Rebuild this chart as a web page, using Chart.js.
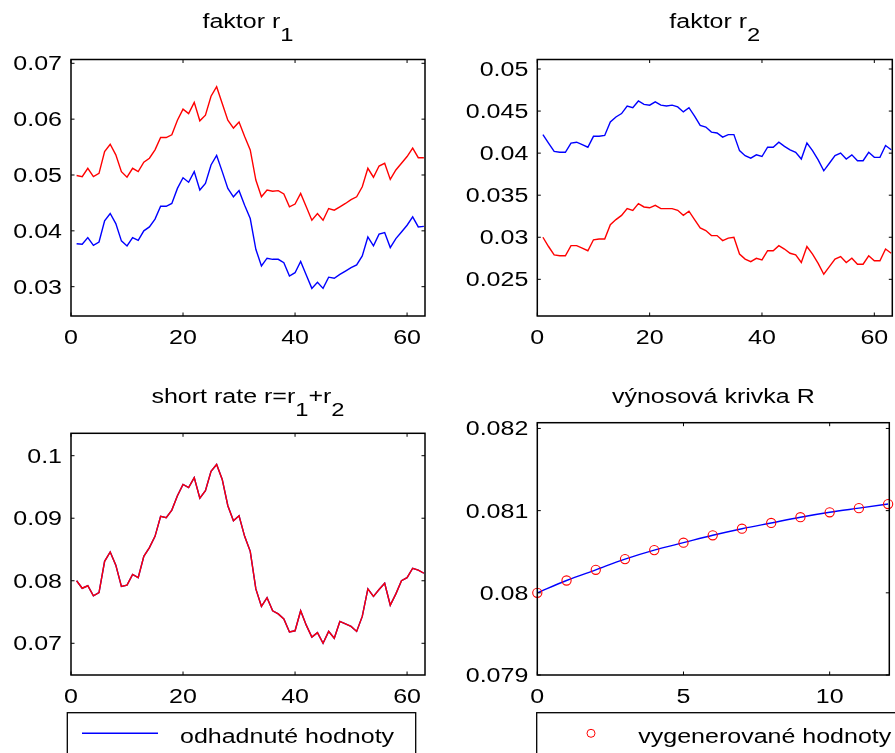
<!DOCTYPE html>
<html>
<head>
<meta charset="utf-8">
<title>faktory r1, r2, short rate a výnosová krivka</title>
<script src="https://cdn.jsdelivr.net/npm/chart.js@4.4.1/dist/chart.umd.min.js"></script>
<style>
    html, body { margin: 0; padding: 0; background: #fff; }
    #figure { position: relative; width: 895px; height: 753px; overflow: hidden; }
    #figure canvas { position: absolute; left: 0; top: 0; }
</style>
</head>
<body>
<div id="figure">
    <canvas id="r1Chart" width="895" height="753"></canvas>
    <canvas id="r2Chart" width="895" height="753"></canvas>
    <canvas id="rateChart" width="895" height="753"></canvas>
    <canvas id="yieldChart" width="895" height="753"></canvas>
</div>
<script>
// casove kroky 1..63
const steps = Array.from({ length: 63 }, (_, i) => i + 1);

const r1Generated = [
    0.0499, 0.0497, 0.0512, 0.0497, 0.0503, 0.0542, 0.0555, 0.0536, 0.0506, 0.0496,
    0.0512, 0.0506, 0.0523, 0.0530, 0.0545, 0.0567, 0.0567, 0.0572, 0.0598, 0.0618,
    0.0610, 0.0630, 0.0597, 0.0607, 0.0641, 0.0658, 0.0628, 0.0598, 0.0584, 0.0595,
    0.0569, 0.0545, 0.0491, 0.0461, 0.0473, 0.0471, 0.0472, 0.0466, 0.0443, 0.0448,
    0.0467, 0.0443, 0.0419, 0.0431, 0.0419, 0.0440, 0.0437, 0.0443, 0.0449, 0.0456,
    0.0461, 0.0479, 0.0512, 0.0496, 0.0516, 0.0521, 0.0492, 0.0509, 0.0521, 0.0533,
    0.0548, 0.0531, 0.0531
];
const r1Estimated = [
    0.0377, 0.0376, 0.0388, 0.0374, 0.0380, 0.0418, 0.0431, 0.0413, 0.0382, 0.0373,
    0.0388, 0.0383, 0.0400, 0.0407, 0.0421, 0.0444, 0.0444, 0.0449, 0.0476, 0.0495,
    0.0487, 0.0506, 0.0473, 0.0485, 0.0518, 0.0535, 0.0506, 0.0476, 0.0461, 0.0472,
    0.0446, 0.0422, 0.0367, 0.0337, 0.0351, 0.0349, 0.0349, 0.0343, 0.0319, 0.0325,
    0.0345, 0.0321, 0.0297, 0.0308, 0.0297, 0.0317, 0.0315, 0.0322, 0.0328, 0.0334,
    0.0339, 0.0355, 0.0389, 0.0373, 0.0394, 0.0397, 0.0370, 0.0386, 0.0398, 0.0410,
    0.0425, 0.0407, 0.0408
];
const r2Generated = [
    0.0300, 0.0289, 0.0279, 0.0278, 0.0278, 0.0290, 0.0290, 0.0287, 0.0284, 0.0297,
    0.0298, 0.0298, 0.0315, 0.0321, 0.0326, 0.0334, 0.0332, 0.0340, 0.0336, 0.0335,
    0.0338, 0.0334, 0.0334, 0.0334, 0.0332, 0.0326, 0.0331, 0.0321, 0.0311, 0.0308,
    0.0302, 0.0302, 0.0296, 0.0299, 0.0300, 0.0280, 0.0274, 0.0271, 0.0275, 0.0273,
    0.0284, 0.0284, 0.0290, 0.0286, 0.0281, 0.0279, 0.0270, 0.0289, 0.0280, 0.0269,
    0.0256, 0.0265, 0.0274, 0.0277, 0.0270, 0.0275, 0.0268, 0.0268, 0.0278, 0.0272,
    0.0272, 0.0286, 0.0281
];
const r2Estimated = [
    0.0422, 0.0412, 0.0402, 0.0401, 0.0401, 0.0412, 0.0413, 0.0410, 0.0407, 0.0420,
    0.0420, 0.0421, 0.0437, 0.0443, 0.0447, 0.0456, 0.0454, 0.0462, 0.0458, 0.0457,
    0.0461, 0.0457, 0.0456, 0.0457, 0.0455, 0.0449, 0.0454, 0.0444, 0.0433, 0.0431,
    0.0425, 0.0424, 0.0419, 0.0422, 0.0422, 0.0403, 0.0397, 0.0394, 0.0398, 0.0396,
    0.0407, 0.0407, 0.0413, 0.0408, 0.0404, 0.0401, 0.0393, 0.0412, 0.0403, 0.0392,
    0.0379, 0.0388, 0.0397, 0.0400, 0.0393, 0.0398, 0.0391, 0.0391, 0.0401, 0.0395,
    0.0395, 0.0409, 0.0404
];
// short rate r = r1 + r2 (odhad aj simulacia sa prekryvaju)
const shortRate = [
    0.0800, 0.0788, 0.0792, 0.0776, 0.0781, 0.0831, 0.0846, 0.0825, 0.0791, 0.0793,
    0.0810, 0.0805, 0.0839, 0.0853, 0.0871, 0.0903, 0.0901, 0.0913, 0.0936, 0.0954,
    0.0949, 0.0965, 0.0932, 0.0944, 0.0975, 0.0986, 0.0962, 0.0920, 0.0896, 0.0904,
    0.0871, 0.0847, 0.0787, 0.0759, 0.0773, 0.0752, 0.0747, 0.0739, 0.0718, 0.0720,
    0.0752, 0.0729, 0.0710, 0.0717, 0.0700, 0.0719, 0.0708, 0.0735, 0.0731, 0.0727,
    0.0719, 0.0743, 0.0787, 0.0775, 0.0786, 0.0796, 0.0761, 0.0779, 0.0800, 0.0805,
    0.0820, 0.0817, 0.0812
];

const maturities = [0, 1, 2, 3, 4, 5, 6, 7, 8, 9, 10, 11, 12];
const yieldGenerated = [0.08000, 0.08015, 0.08028, 0.08041, 0.08052, 0.08061, 0.08070,
                        0.08078, 0.08085, 0.08092, 0.08098, 0.08103, 0.08108];
const yieldEstimated = [0.08000, 0.08015, 0.08028, 0.08041, 0.08052, 0.08061, 0.08070,
                        0.08078, 0.08085, 0.08092, 0.08098, 0.08103, 0.08108];

const stepTicks = [0, 20, 40, 60];
const maturityTicks = [0, 5, 10];
const r1Ticks = [0.03, 0.04, 0.05, 0.06, 0.07];
const r2Ticks = [0.025, 0.03, 0.035, 0.04, 0.045, 0.05];
const rateTicks = [0.07, 0.08, 0.09, 0.1];
const yieldTicks = [0.079, 0.08, 0.081, 0.082];

const RED = '#ff0000';
const BLUE = '#0000ff';
const FONT = '20px "Liberation Sans", Arial, sans-serif';
const SUB_FONT = '19px "Liberation Sans", Arial, sans-serif';
const STRETCH = 1.25;   // siroke pismo ako v matlabe
const TICK = 3.5;

function wideText(ctx, text, x, y, align) {
    ctx.save();
    ctx.translate(x, y);
    ctx.scale(STRETCH, 1);
    ctx.textAlign = align;
    ctx.fillText(text, 0, 0);
    ctx.restore();
}

// ramcek, ticky dovnutra, popisky, nadpis s indexmi a legenda
const matlabAxes = {
    id: 'matlabAxes',
    afterDraw(chart, args, opts) {
        const { ctx, chartArea: a } = chart;
        const x = chart.scales.x;
        const y = chart.scales.y;

        ctx.save();
        ctx.strokeStyle = '#000';
        ctx.fillStyle = '#000';

        ctx.lineWidth = 1;
        ctx.beginPath();
        x.ticks.forEach(t => {
            const px = x.getPixelForValue(t.value);
            ctx.moveTo(px, a.bottom); ctx.lineTo(px, a.bottom - TICK);
            ctx.moveTo(px, a.top); ctx.lineTo(px, a.top + TICK);
        });
        y.ticks.forEach(t => {
            const py = y.getPixelForValue(t.value);
            ctx.moveTo(a.left, py); ctx.lineTo(a.left + TICK, py);
            ctx.moveTo(a.right, py); ctx.lineTo(a.right - TICK, py);
        });
        ctx.stroke();

        ctx.lineWidth = 1.5;
        ctx.strokeRect(a.left, a.top, a.right - a.left, a.bottom - a.top);

        ctx.font = FONT;
        ctx.textBaseline = 'alphabetic';
        x.ticks.forEach(t => wideText(ctx, t.label, x.getPixelForValue(t.value), a.bottom + 28, 'center'));
        y.ticks.forEach(t => wideText(ctx, t.label, a.left - 9, y.getPixelForValue(t.value) + 7, 'right'));

        // nadpis
        const parts = opts.title;
        const widths = parts.map(([s, sub]) => {
            ctx.font = sub ? SUB_FONT : FONT;
            return ctx.measureText(s).width * STRETCH;
        });
        let cx = (a.left + a.right) / 2 - widths.reduce((p, w) => p + w, 0) / 2;
        parts.forEach(([s, sub], i) => {
            ctx.font = sub ? SUB_FONT : FONT;
            wideText(ctx, s, cx, sub ? opts.titleY + opts.subShift : opts.titleY, 'left');
            cx += widths[i];
        });

        // legenda pod grafom
        const k = opts.key;
        if (k) {
            const ds = chart.data.datasets[k.dataset];
            ctx.lineWidth = 1.3;
            ctx.strokeStyle = '#000';
            ctx.strokeRect(k.x, k.y, k.w, k.h);
            if (ds.showLine === false) {
                ctx.strokeStyle = ds.pointBorderColor;
                ctx.lineWidth = 1;
                ctx.beginPath();
                ctx.arc(k.sx, k.sy, 4, 0, Math.PI * 2);
                ctx.stroke();
            } else {
                ctx.strokeStyle = ds.borderColor;
                ctx.lineWidth = ds.borderWidth;
                ctx.beginPath();
                ctx.moveTo(k.sx, k.sy);
                ctx.lineTo(k.sx + 76, k.sy);
                ctx.stroke();
            }
            ctx.font = FONT;
            wideText(ctx, ds.label, k.tx, k.ty, 'left');
        }
        ctx.restore();
    }
};

function pairs(xs, ys) {
    return xs.map((v, i) => ({ x: v, y: ys[i] }));
}

function axis(min, max, values, horizontal) {
    return {
        type: 'linear',
        min: min,
        max: max,
        grid: { display: false },
        border: { display: false },
        ticks: { display: false, callback: v => String(v) },
        afterBuildTicks: s => { s.ticks = values.map(v => ({ value: v })); },
        afterFit: s => { if (horizontal) s.height = 0; else s.width = 0; }
    };
}

function line(label, xs, ys, color) {
    return {
        label: label,
        data: pairs(xs, ys),
        showLine: true,
        borderColor: color,
        backgroundColor: color,
        borderWidth: 1.4,
        pointRadius: 0
    };
}

function panel(id, cfg) {
    const [left, top, right, bottom] = cfg.box;
    return new Chart(document.getElementById(id), {
        type: 'scatter',
        data: { datasets: cfg.datasets },
        options: {
            responsive: false,
            animation: false,
            devicePixelRatio: 1,
            events: [],
            layout: { padding: { left: left, top: top, right: 895 - right, bottom: 753 - bottom } },
            plugins: {
                legend: { display: false },
                tooltip: { enabled: false },
                matlabAxes: { title: cfg.title, titleY: cfg.titleY, subShift: cfg.subShift || 0, key: cfg.key }
            },
            scales: {
                x: axis(cfg.x[0], cfg.x[1], cfg.xTicks, true),
                y: axis(cfg.y[0], cfg.y[1], cfg.yTicks, false)
            }
        },
        plugins: [matlabAxes]
    });
}

panel('r1Chart', {
    box: [71, 59.5, 425, 316],
    x: [0, 63.2], xTicks: stepTicks,
    y: [0.02475, 0.07068], yTicks: r1Ticks,
    title: [['faktor r', false], ['1', true]], titleY: 28, subShift: 12.5,
    datasets: [
        line('vygenerované hodnoty', steps, r1Generated, RED),
        line('odhadnuté hodnoty', steps, r1Estimated, BLUE)
    ]
});

panel('r2Chart', {
    box: [537.3, 59.5, 892.3, 316],
    x: [0, 63.2], xTicks: stepTicks,
    y: [0.02064, 0.05113], yTicks: r2Ticks,
    title: [['faktor r', false], ['2', true]], titleY: 28, subShift: 12.5,
    datasets: [
        line('vygenerované hodnoty', steps, r2Generated, RED),
        line('odhadnuté hodnoty', steps, r2Estimated, BLUE)
    ]
});

panel('rateChart', {
    box: [71, 433.3, 425, 675],
    x: [0, 63.2], xTicks: stepTicks,
    y: [0.06493, 0.10358], yTicks: rateTicks,
    title: [['short rate r=r', false], ['1', true], ['+r', false], ['2', true]], titleY: 403, subShift: 12.5,
    datasets: [
        line('vygenerované hodnoty', steps, shortRate, RED),
        line('odhadnuté hodnoty', steps, shortRate, BLUE)
    ],
    key: { dataset: 1, x: 67.3, y: 712.7, w: 348.4, h: 60, sx: 82, sy: 733.3, tx: 180, ty: 743 }
});

const yieldLine = line('odhadnuté hodnoty', maturities, yieldEstimated, BLUE);
yieldLine.cubicInterpolationMode = 'monotone';

panel('yieldChart', {
    box: [537.3, 422.7, 892.3, 675],
    x: [0, 12.04], xTicks: maturityTicks,
    y: [0.079, 0.08207], yTicks: yieldTicks,
    title: [['výnosová krivka R', false]], titleY: 403,
    datasets: [
        {
            label: 'vygenerované hodnoty',
            data: pairs(maturities, yieldGenerated),
            showLine: false,
            pointStyle: 'circle',
            pointRadius: 4.6,
            pointBorderWidth: 1.1,
            pointBorderColor: RED,
            pointBackgroundColor: 'rgba(0,0,0,0)',
            clip: false
        },
        yieldLine
    ],
    key: { dataset: 0, x: 536.7, y: 712.7, w: 400, h: 60, sx: 591, sy: 733.3, tx: 638.3, ty: 743 }
});
</script>
</body>
</html>
